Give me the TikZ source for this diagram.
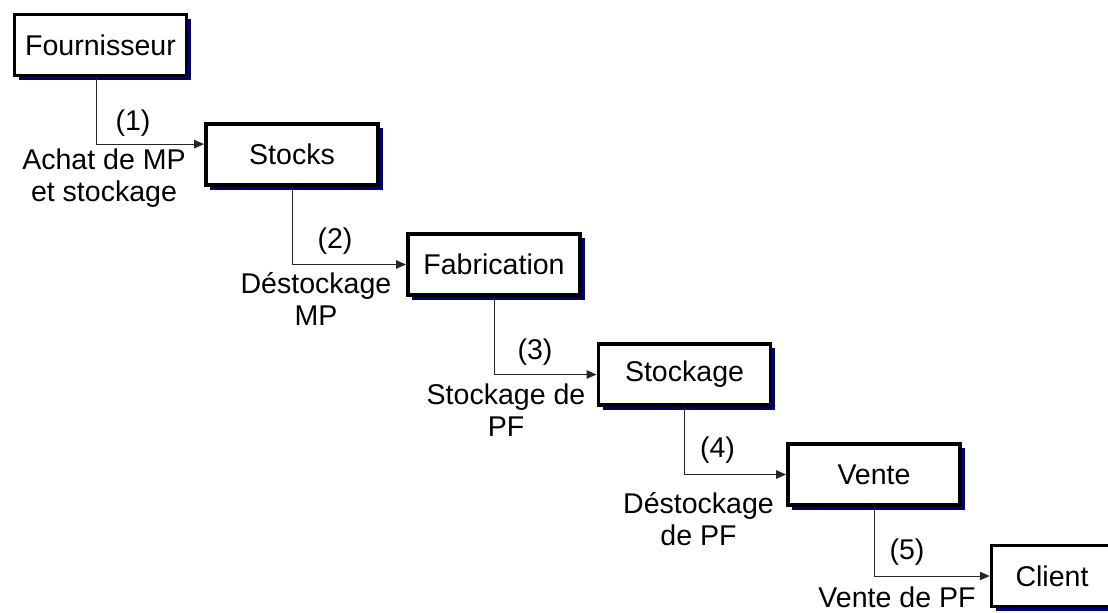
\documentclass[tikz,border=0pt]{standalone}
\usepackage{fontspec}
\setmainfont{Liberation Sans}
\usetikzlibrary{arrows.meta}
\usetikzlibrary{shadows}
\definecolor{marine}{RGB}{0, 0, 128}

\begin{document}
\begin{tikzpicture}[x=0.025cm, y=-0.025cm,
        every node/.style={font=\fontsize{20.3}{22.6}\selectfont},
        etape/.style={draw, line width=2.5pt, fill=white, inner sep=0pt,
                      minimum width=4.31cm, minimum height=1.53cm,
                      drop shadow={shadow xshift=0.11cm, shadow yshift=-0.11cm, fill=marine, opacity=1}},
        flux/.style={draw=black!85, line width=0.7pt, -{Triangle[length=7pt, width=6pt]}},
        numero/.style={inner sep=0pt},
        legende/.style={inner sep=0pt, align=center}]
            % Frame to fix the page
            \useasboundingbox                                  (0, 0) rectangle (1108, 612);
            % Etapes
            \node[etape] (fournisseur) at ( 100.5,  45.0) {Fournisseur};
            \node[etape] (stocks)      at ( 292.0, 154.5) {Stocks};
            \node[etape] (fabrication) at ( 494.0, 264.5) {Fabrication};
            \node[etape] (stockage)    at ( 684.5, 374.5) {Stockage};
            \node[etape] (vente)       at ( 874.0, 474.5) {Vente};
            \node[etape, minimum width=3.03cm] (client) at (1052.0, 576.0) {Client};
            % Flux
            \draw[flux] ([xshift=-0.09cm]fournisseur.south) |- ([yshift=0.26cm]stocks.west);
            \draw[flux] (stocks.south)      |- (fabrication.west);
            \draw[flux] (fabrication.south) |- (stockage.west);
            \draw[flux] (stockage.south)    |- (vente.west);
            \draw[flux] (vente.south)       |- (client.west);
            % Numeros
            \node[numero] (n1) at ( 133.0, 123.0) {(1)};
            \node[numero] (n2) at ( 335.0, 241.0) {(2)};
            \node[numero] (n3) at ( 535.0, 352.0) {(3)};
            \node[numero] (n4) at ( 717.5, 450.5) {(4)};
            \node[numero] (n5) at ( 907.0, 552.5) {(5)};
            % Legendes
            \node[legende] (t1) at ( 104.0, 178.5) {Achat de MP\\et stockage};
            \node[legende] (t2) at ( 316.0, 299.0) {Déstockage\\MP};
            \node[legende] (t3) at ( 506.0, 410.5) {Stockage de\\PF};
            \node[legende] (t4) at ( 698.5, 519.5) {Déstockage\\de PF};
            \node[legende] (t5) at ( 897.0, 597.0) {Vente de PF};
\end{tikzpicture}
\end{document}
